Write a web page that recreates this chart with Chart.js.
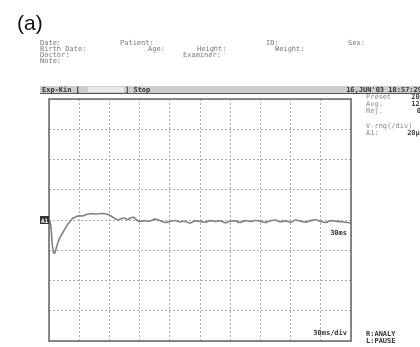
<!DOCTYPE html>
<html>
<head>
<meta charset="utf-8">
<script src="https://cdn.jsdelivr.net/npm/chart.js@4.4.1/dist/chart.umd.min.js"></script>
<style>
html, body { margin: 0; padding: 0; background: #fff; }
#wrap { width: 420px; height: 347px; position: relative; }
</style>
</head>
<body>
<div id="wrap"><canvas id="trace"></canvas></div>
<script>
// sweep: 30 ms/div, 10 divs ; A1: 20 uV/div, 4 divs either side of baseline
var times = [0, 1, 2, 3, 4, 5, 6, 7, 9, 11, 14, 17, 19, 22, 24, 27, 30, 33, 36, 39, 42, 45, 48, 51, 54, 57, 60,
    63, 66, 69, 72, 75, 78, 81, 84, 87, 90, 95, 100, 105, 110, 115, 120, 125, 130, 135, 140, 145, 150,
    155, 160, 165, 170, 175, 180, 185, 190, 195, 200, 205, 210, 215, 220, 225, 230, 235, 240, 245, 250,
    255, 260, 265, 270, 275, 280, 285, 290, 295, 300];
var microvolts = [0, -1, -5, -14, -20, -22, -21.5, -19, -14.7, -11.5, -8, -4.5, -2.5, 0, 1.3, 2.2, 2.7, 2.7, 3.3, 4, 4.2, 4, 4, 4.3, 4.2, 4, 3.3,
    2, 0.8, 0, 1, 1.3, 0.3, 1.3, 1.8, 0, -1, -0.5, -0.8, 0.6, -0.4, -1.6, -1, -0.3, -1.2, -0.8, -2, -0.6, -1,
    -1.5, -0.4, -1, -0.5, -1.8, -0.8, -0.6, -1.6, -0.4, -1, -0.3, -0.8, -1.6, -0.5, 0, -1.2, -0.6, -1.5, 0, -0.8,
    -1.4, -0.4, 0.2, -1, -1.6, -0.4, -0.8, -1.2, -1.5, -2];
var xTicks = [0, 30, 60, 90, 120, 150, 180, 210, 240, 270, 300];
var yTicks = [-80, -60, -40, -20, 0, 20, 40, 60, 80];

var mono = '"DejaVu Sans Mono", "Liberation Mono", monospace';

var printout = {
    id: 'printout',
    afterDraw: function (chart) {
        var ctx = chart.ctx, a = chart.chartArea;
        ctx.save();
        // frame
        ctx.strokeStyle = '#666';
        ctx.lineWidth = 1.5;
        ctx.strokeRect(a.left, a.top, a.right - a.left, a.bottom - a.top);

        // (a)
        ctx.fillStyle = '#111';
        ctx.font = '21px "Liberation Sans", Arial, sans-serif';
        ctx.textBaseline = 'alphabetic';
        ctx.fillText('(a)', 17, 30);

        // patient block
        ctx.fillStyle = '#777';
        ctx.font = '7px ' + mono;
        ctx.fillText('Date:', 40, 45);
        ctx.fillText('Birth Date:', 40, 51);
        ctx.fillText('Doctor:', 40, 57);
        ctx.fillText('Note:', 40, 63);
        ctx.fillText('Patient:', 120, 45);
        ctx.fillText('Age:', 148, 51);
        ctx.fillText('Height:', 197, 51);
        ctx.fillText('Examiner:', 183, 57);
        ctx.fillText('ID:', 266, 45);
        ctx.fillText('Weight:', 275, 51);
        ctx.fillText('Sex:', 348, 45);

        // header bar
        ctx.fillStyle = '#ccc';
        ctx.fillRect(40, 86, 380, 7);
        ctx.fillStyle = '#e8e8e8';
        ctx.fillRect(88, 87, 36, 5);
        ctx.strokeStyle = '#555';
        ctx.lineWidth = 1;
        ctx.beginPath();
        ctx.moveTo(40, 93.5);
        ctx.lineTo(420, 93.5);
        ctx.stroke();
        ctx.fillStyle = '#333';
        ctx.font = 'bold 7px ' + mono;
        ctx.fillText('Exp-Kin [', 42, 92);
        ctx.fillText('] Stop', 125, 92);
        ctx.textAlign = 'right';
        ctx.fillText("16,JUN'03 18:57:29", 422, 92);

        // settings column
        ctx.textAlign = 'left';
        ctx.font = '7px ' + mono;
        ctx.fillStyle = '#888';
        ctx.fillText('Preset', 366, 99);
        ctx.fillText('Avg.', 366, 106);
        ctx.fillText('Rej.', 366, 113);
        ctx.fillText('V-rng(/div)', 366, 128);
        ctx.fillText('A1:', 366, 135);
        ctx.textAlign = 'right';
        ctx.fillStyle = '#444';
        ctx.font = 'bold 7px ' + mono;
        ctx.fillText('200', 424, 99);
        ctx.fillText('120', 424, 106);
        ctx.fillText('0', 421, 113);
        ctx.fillText('20\u00b5V', 424, 135);

        // baseline marker
        var y0 = chart.scales.y.getPixelForValue(0);
        ctx.fillStyle = '#333';
        ctx.fillRect(40, y0 - 4, 9, 8);
        ctx.fillStyle = '#fff';
        ctx.font = 'bold 6px ' + mono;
        ctx.textAlign = 'left';
        ctx.fillText('A1', 41, y0 + 2.5);

        // in-plot labels
        ctx.fillStyle = '#333';
        ctx.font = 'bold 7px ' + mono;
        ctx.textAlign = 'right';
        ctx.fillText('30ms', a.right - 4, y0 + 15);
        ctx.fillText('30ms/div', a.right - 4, a.bottom - 6);
        ctx.textAlign = 'left';
        ctx.fillText('R:ANALY', 366, 336);
        ctx.fillText('L:PAUSE', 366, 343);
        ctx.restore();
    }
};

new Chart(document.getElementById('trace'), {
    type: 'line',
    data: {
        datasets: [
            {
                label: 'A1',
                data: times.map(function (t, i) { return {x: t, y: microvolts[i]}; }),
                borderColor: '#808080',
                borderWidth: 1.6,
                pointRadius: 0,
                tension: 0.3,
                fill: false
            }
        ]
    },
    options: {
        responsive: true,
        maintainAspectRatio: false,
        animation: false,
        layout: {padding: {left: 49, right: 69, top: 99, bottom: 6}},
        plugins: {
            legend: {display: false},
            tooltip: {enabled: false},
            title: {display: false}
        },
        scales: {
            x: {
                type: 'linear',
                min: 0,
                max: 300,
                afterBuildTicks: function (s) { s.ticks = xTicks.map(function (v) { return {value: v}; }); },
                ticks: {display: false},
                grid: {color: '#aaa', drawTicks: false, lineWidth: 1},
                border: {display: false, dash: [2, 2]}
            },
            y: {
                min: -80,
                max: 80,
                afterBuildTicks: function (s) { s.ticks = yTicks.map(function (v) { return {value: v}; }); },
                ticks: {display: false},
                grid: {color: '#aaa', drawTicks: false, lineWidth: 1},
                border: {display: false, dash: [2, 2]}
            }
        }
    },
    plugins: [printout]
});
</script>
</body>
</html>
